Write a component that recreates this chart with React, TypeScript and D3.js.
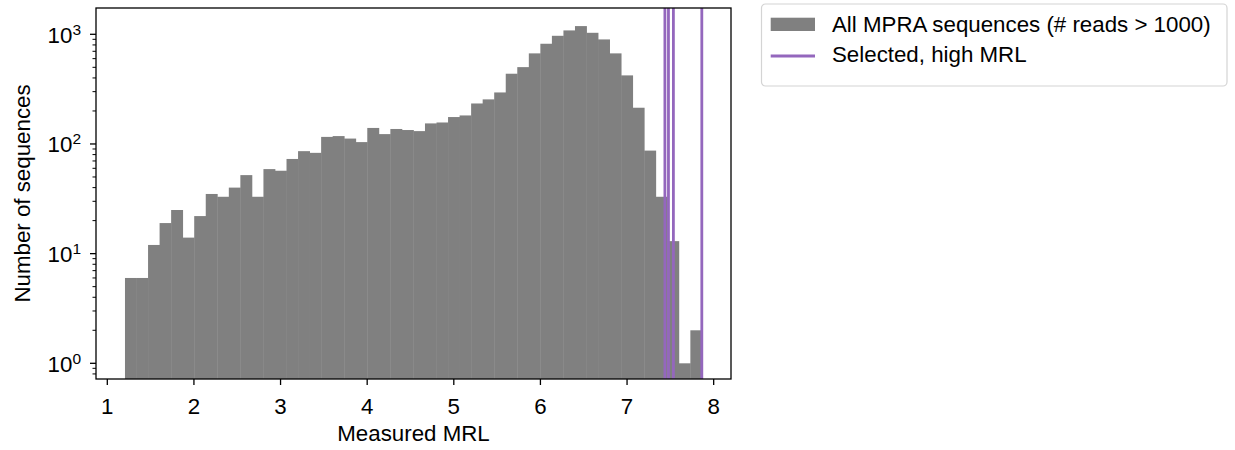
import React, { useEffect, useRef } from "react"
import * as d3 from "d3"

// histogram of measured MRL, 50 equal bins between min and max
const mrlMin = 1.204
const mrlMax = 7.864
const binCounts = [
	6, 6, 12, 19, 25, 14, 22, 35, 33, 40,
	52, 33, 59, 57, 73, 86, 83, 116, 118, 112,
	104, 140, 123, 137, 134, 131, 154, 157, 176, 182,
	234, 255, 295, 437, 502, 670, 820, 969, 1085, 1188,
	1032, 898, 670, 422, 214, 87, 33, 13, 1, 2
]
// MRL of the selected sequences
const selectedMRL = [7.437, 7.478, 7.535, 7.863]

const xTicks = [1, 2, 3, 4, 5, 6, 7, 8]
const yDecades = [0, 1, 2, 3]
const legendLabels = ["All MPRA sequences (# reads > 1000)", "Selected, high MRL"]

const W = 1235, H = 450
const margin = { top: 8, right: 504, bottom: 71, left: 96 }
const FONT = "'Liberation Sans', Arial, Helvetica, sans-serif"
const FS = "22.3px"
const GRAY = "#808080"
const PURPLE = "#9467bd"

export default function App() {
	const ref = useRef<SVGSVGElement>(null)

	useEffect(() => {
		const svg = d3.select(ref.current)
		svg.selectAll("*").remove()
		const iw = W - margin.left - margin.right
		const ih = H - margin.top - margin.bottom

		const x = d3.scaleLinear().domain([0.8695, 8.2]).range([0, iw])
		const y = d3.scaleLog().domain([0.7193, 1737]).range([ih, 0])

		const g = svg.append("g").attr("transform", `translate(${margin.left},${margin.top})`)

		const binW = (mrlMax - mrlMin) / binCounts.length
		const bins = binCounts.map((c, i) => ({ x0: mrlMin + i * binW, x1: mrlMin + (i + 1) * binW, c }))

		g.append("g").selectAll("rect")
			.data(bins)
			.enter()
			.append("rect")
			.attr("x", d => x(d.x0))
			.attr("width", d => x(d.x1) - x(d.x0) + 0.4)
			.attr("y", d => y(d.c))
			.attr("height", d => ih - y(d.c))
			.attr("fill", GRAY)

		g.append("g").selectAll("line")
			.data(selectedMRL)
			.enter()
			.append("line")
			.attr("x1", d => x(d)).attr("x2", d => x(d))
			.attr("y1", 0).attr("y2", ih)
			.attr("stroke", PURPLE)
			.attr("stroke-width", 2.8)

		// frame
		g.append("rect")
			.attr("width", iw).attr("height", ih)
			.attr("fill", "none").attr("stroke", "#000").attr("stroke-width", 1.3)

		// x axis
		const xa = g.append("g").attr("transform", `translate(0,${ih})`)
		xa.selectAll("line").data(xTicks).enter().append("line")
			.attr("x1", d => x(d)).attr("x2", d => x(d))
			.attr("y1", 0).attr("y2", 6)
			.attr("stroke", "#000").attr("stroke-width", 1.3)
		xa.selectAll("text").data(xTicks).enter().append("text")
			.attr("x", d => x(d)).attr("y", 35)
			.attr("text-anchor", "middle")
			.style("font-family", FONT).style("font-size", FS)
			.text(d => d)
		g.append("text")
			.attr("x", iw / 2).attr("y", ih + 62)
			.attr("text-anchor", "middle")
			.style("font-family", FONT).style("font-size", FS)
			.text("Measured MRL")

		// y axis, log
		const minor: number[] = []
		yDecades.forEach(e => { for (let k = 2; k <= 9; k++) minor.push(k * Math.pow(10, e)) })
		minor.unshift(0.8, 0.9)
		const ya = g.append("g")
		ya.selectAll("line.minor").data(minor.filter(v => y(v) <= ih && y(v) >= 0)).enter().append("line")
			.attr("class", "minor")
			.attr("x1", -3.5).attr("x2", 0)
			.attr("y1", d => y(d)).attr("y2", d => y(d))
			.attr("stroke", "#000").attr("stroke-width", 1)
		ya.selectAll("line.major").data(yDecades).enter().append("line")
			.attr("class", "major")
			.attr("x1", -6).attr("x2", 0)
			.attr("y1", d => y(Math.pow(10, d))).attr("y2", d => y(Math.pow(10, d)))
			.attr("stroke", "#000").attr("stroke-width", 1.3)
		const yl = ya.selectAll("text.tl").data(yDecades).enter().append("text")
			.attr("class", "tl")
			.attr("x", -15).attr("y", d => y(Math.pow(10, d)) + 8.5)
			.attr("text-anchor", "end")
			.style("font-family", FONT).style("font-size", FS)
		yl.append("tspan").text("10")
		yl.append("tspan").attr("dy", -8).style("font-size", "15.5px").text(d => d)

		g.append("text")
			.attr("transform", `translate(${-66},${ih / 2}) rotate(-90)`)
			.attr("text-anchor", "middle")
			.style("font-family", FONT).style("font-size", FS)
			.text("Number of sequences")

		// legend
		const lg = svg.append("g").attr("transform", "translate(761.5,4)")
		lg.append("rect")
			.attr("width", 465.5).attr("height", 82).attr("rx", 4)
			.attr("fill", "#fff").attr("stroke", "#d4d4d4").attr("stroke-width", 1.2)
		lg.append("rect")
			.attr("x", 9.2).attr("y", 13.7).attr("width", 44.3).attr("height", 13.3)
			.attr("fill", GRAY)
		lg.append("line")
			.attr("x1", 9.2).attr("x2", 53.5).attr("y1", 52).attr("y2", 52)
			.attr("stroke", PURPLE).attr("stroke-width", 2.8)
		lg.selectAll("text").data(legendLabels).enter().append("text")
			.attr("x", 70.5).attr("y", (d, i) => 27.5 + i * 30)
			.style("font-family", FONT).style("font-size", FS)
			.text(d => d)
	}, [])

	return (
		<svg ref={ref} width={W} height={H}
			style={{ position: "absolute", left: 0, top: 0, background: "#fff" }} />
	)
}
